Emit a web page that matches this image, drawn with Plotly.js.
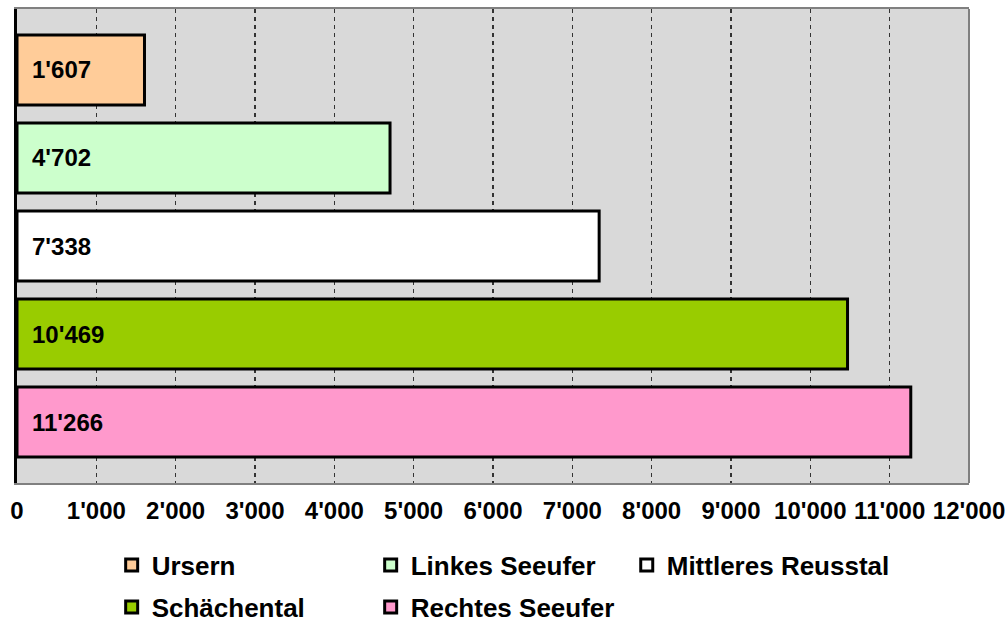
<!DOCTYPE html>
<html>
<head>
<meta charset="utf-8">
<script src="https://cdn.plot.ly/plotly-3.0.1.min.js"></script>
<style>html,body{margin:0;padding:0;background:#fff;}#chart{width:1006px;height:622px;}</style>
</head>
<body>
<div id="chart"></div>
<script>
const categories = ["Ursern", "Linkes Seeufer", "Mittleres Reusstal", "Schächental", "Rechtes Seeufer"];
const values = [1607, 4702, 7338, 10469, 11266];
const colors = ["#ffcc99", "#ccffcc", "#ffffff", "#99cc00", "#ff99cc"];
const legendGroup = ["legend", "legend", "legend3", "legend2", "legend2"];
const tickValues = [0, 1000, 2000, 3000, 4000, 5000, 6000, 7000, 8000, 9000, 10000, 11000, 12000];
const tickLabels = ["0", "1'000", "2'000", "3'000", "4'000", "5'000", "6'000", "7'000", "8'000", "9'000", "10'000", "11'000", "12'000"];

function fmt(v) {
  return String(v).replace(/\B(?=(\d{3})+(?!\d))/g, "'");
}

const FAM = "Liberation Sans, Arial, sans-serif";
const labelFont = {family: FAM, size: 24, color: "#000", weight: "bold"};
const tickFont = {family: FAM, size: 24, color: "#000", weight: "bold"};
const legendFont = {family: FAM, size: 26, color: "#000", weight: "bold"};

const traces = categories.map((c, i) => ({
  type: "bar",
  orientation: "h",
  name: c,
  x: [values[i]],
  y: [c],
  legend: legendGroup[i],
  marker: {color: colors[i], line: {color: "#000", width: 3}},
  hoverinfo: "skip",
  showlegend: true
}));

const annotations = categories.map((c, i) => ({
  x: 0, y: c, xref: "x", yref: "y",
  text: fmt(values[i]),
  showarrow: false,
  xanchor: "left", yanchor: "middle",
  xshift: 13,
  font: labelFont
}));

const legendBase = {
  orientation: "h",
  xref: "container", yref: "container",
  x: 0.111, xanchor: "left",
  yanchor: "middle",
  font: legendFont,
  entrywidth: 214,
  entrywidthmode: "pixels",
  traceorder: "normal",
  itemclick: false,
  itemdoubleclick: false,
  bgcolor: "rgba(0,0,0,0)"
};

const layout = {
  width: 1006, height: 622,
  margin: {l: 17, r: 37, t: 9, b: 139},
  paper_bgcolor: "#ffffff",
  plot_bgcolor: "#d9d9d9",
  bargap: 0.205,
  barmode: "group",
  showlegend: true,
  xaxis: {
    range: [0, 12000],
    tickvals: tickValues,
    ticktext: tickLabels,
    tickfont: tickFont,
    showgrid: true,
    gridcolor: "#333333",
    gridwidth: 1.5,
    griddash: "4px,4px",
    zeroline: false,
    showline: true,
    linecolor: "#808080",
    linewidth: 2,
    mirror: true,
    ticks: "",
    ticklabelstandoff: 5,
    automargin: false,
    fixedrange: true
  },
  yaxis: {
    type: "category",
    categoryorder: "array",
    categoryarray: categories,
    range: [4.693, -0.693],
    showticklabels: false,
    showgrid: false,
    zeroline: false,
    showline: true,
    linecolor: "#000",
    linewidth: 3,
    ticks: "",
    automargin: false,
    fixedrange: true
  },
  shapes: [{
    type: "line", xref: "paper", yref: "paper",
    x0: 1, x1: 1, y0: 0, y1: 1,
    line: {color: "#808080", width: 2}
  }],
  annotations: annotations,
  legend: Object.assign({}, legendBase, {y: 1 - 565 / 622}),
  legend2: Object.assign({}, legendBase, {y: 1 - 607 / 622}),
  legend3: Object.assign({}, legendBase, {y: 1 - 565 / 622, x: 0.623, entrywidth: 250})
};

Plotly.newPlot("chart", traces, layout, {displayModeBar: false, staticPlot: true});
</script>
</body>
</html>
